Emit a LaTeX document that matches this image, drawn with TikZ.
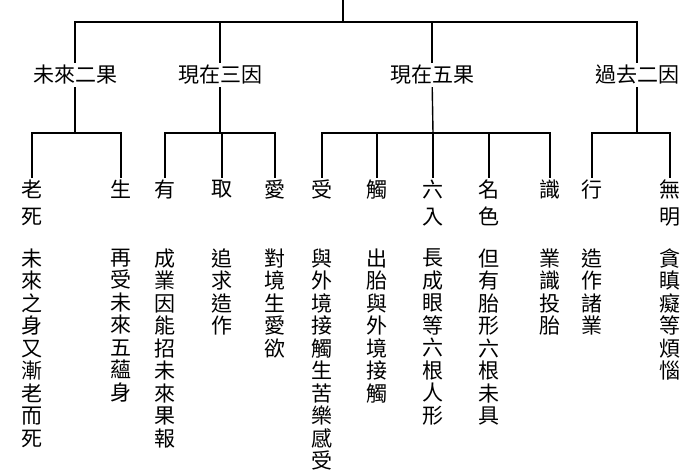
\documentclass[tikz,border=0pt]{standalone}
\usepackage{fontspec}
\newfontfamily\cjk{Noto Sans CJK TC}
\tikzset{
  grp/.style={font=\cjk\fontsize{21}{24}\selectfont,inner sep=2pt,fill=white},
  leaf/.style={anchor=north,align=center,inner sep=1pt,font=\cjk\fontsize{21}{27}\selectfont},
  desc/.style={anchor=north,align=center,inner sep=0pt,font=\cjk\fontsize{21}{22.5}\selectfont},
}
\begin{document}
\begin{tikzpicture}[x=1pt,y=-1pt,line width=1.4pt]
\useasboundingbox (0,0) rectangle (700,470);
\coordinate (top) at (343,0);
\coordinate (t) at (343,22);
\coordinate (b1) at (75,133);
\coordinate (b2) at (220,133);
\coordinate (b3) at (433,133);
\coordinate (b4) at (637,133);
% groups
\draw (top) -- (t);
\draw (75,75) |- (t) -| (637,75);
\draw (220,75) |- (t);
\draw (432,75) |- (t);
\draw (75,75) -- (b1);
\draw (220,75) -- (b2);
\draw (432,75) -- (b3);
\draw (637,75) -- (b4);
\node[grp] (g1) at (75,75) {未來二果};
\node[grp] (g2) at (220,75) {現在三因};
\node[grp] (g3) at (432,75) {現在五果};
\node[grp] (g4) at (637,75) {過去二因};
% leaves
\node[leaf] (l1) at (32,178) {老\\死};
\node[leaf] (l2) at (121,178) {生};
\node[leaf] (l3) at (165,178) {有};
\node[leaf] (l4) at (222,178) {取};
\node[leaf] (l5) at (275,178) {愛};
\node[leaf] (l6) at (322,178) {受};
\node[leaf] (l7) at (377,178) {觸};
\node[leaf] (l8) at (433,178) {六\\入};
\node[leaf] (l9) at (489,178) {名\\色};
\node[leaf] (l10) at (550,178) {識};
\node[leaf] (l11) at (592,178) {行};
\node[leaf] (l12) at (670,178) {無\\明};
\draw (l1.north) |- (b1) -| (l2.north);
\draw (l3.north) |- (b2) -| (l5.north);
\draw (l4.north) -- (l4.north |- b2);
\draw (l6.north) |- (b3) -| (l10.north);
\draw (l7.north) -- (l7.north |- b3);
\draw (l8.north) -- (l8.north |- b3);
\draw (l9.north) -- (l9.north |- b3);
\draw (l11.north) |- (b4) -| (l12.north);
% descriptions
\node[desc] (d1) at (32,248) {未\\來\\之\\身\\又\\漸\\老\\而\\死};
\node[desc] (d2) at (121,248) {再\\受\\未\\來\\五\\蘊\\身};
\node[desc] (d3) at (165,248) {成\\業\\因\\能\\招\\未\\來\\果\\報};
\node[desc] (d4) at (222,248) {追\\求\\造\\作};
\node[desc] (d5) at (275,248) {對\\境\\生\\愛\\欲};
\node[desc] (d6) at (322,248) {與\\外\\境\\接\\觸\\生\\苦\\樂\\感\\受};
\node[desc] (d7) at (377,248) {出\\胎\\與\\外\\境\\接\\觸};
\node[desc] (d8) at (433,248) {長\\成\\眼\\等\\六\\根\\人\\形};
\node[desc] (d9) at (489,248) {但\\有\\胎\\形\\六\\根\\未\\具};
\node[desc] (d10) at (550,248) {業\\識\\投\\胎};
\node[desc] (d11) at (592,248) {造\\作\\諸\\業};
\node[desc] (d12) at (670,248) {貪\\瞋\\癡\\等\\煩\\惱};
\end{tikzpicture}
\end{document}
